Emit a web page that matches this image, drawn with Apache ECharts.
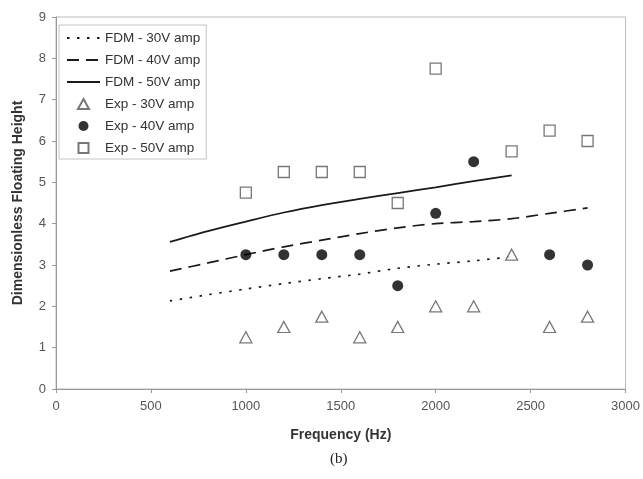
<!DOCTYPE html>
<html><head><meta charset="utf-8">
<script src="https://cdn.jsdelivr.net/npm/echarts@6/dist/echarts.min.js"></script>
<style>html,body{margin:0;padding:0;background:#fff}#c{width:643px;height:479px}</style>
</head><body><div id="c"></div>
<script>
// FDM model curves
const fdmFreq30 = [600, 800, 1000, 1200, 1400, 1600, 1800, 2000, 2200, 2400];
const fdm30 = [2.13, 2.28, 2.42, 2.55, 2.67, 2.78, 2.92, 3.02, 3.10, 3.20];
const fdmFreq40 = [600, 800, 1000, 1200, 1400, 1600, 1800, 2000, 2200, 2400, 2600, 2800];
const fdm40 = [2.85, 3.05, 3.25, 3.44, 3.60, 3.76, 3.90, 4.00, 4.05, 4.12, 4.25, 4.38];
const fdmFreq50 = [600, 800, 1000, 1200, 1400, 1600, 1800, 2000, 2200, 2400];
const fdm50 = [3.56, 3.82, 4.05, 4.27, 4.45, 4.60, 4.74, 4.88, 5.03, 5.17];
// Experimental points
const expFreq30 = [1000, 1200, 1400, 1600, 1800, 2000, 2200, 2400, 2600, 2800];
const exp30 = [1.25, 1.5, 1.75, 1.25, 1.5, 2.0, 2.0, 3.25, 1.5, 1.75];
const expFreq40 = [1000, 1200, 1400, 1600, 1800, 2000, 2200, 2600, 2800];
const exp40 = [3.25, 3.25, 3.25, 3.25, 2.5, 4.25, 5.5, 3.25, 3.0];
const expFreq50 = [1000, 1200, 1400, 1600, 1800, 2000, 2400, 2600, 2800];
const exp50 = [4.75, 5.25, 5.25, 5.25, 4.5, 7.75, 5.75, 6.25, 6.0];
const seriesNames = ['FDM - 30V amp', 'FDM - 40V amp', 'FDM - 50V amp', 'Exp - 30V amp', 'Exp - 40V amp', 'Exp - 50V amp'];

const zip = (xs, ys) => xs.map((x, i) => [x, ys[i]]);
const font = 'Liberation Sans, Arial, sans-serif';
const chart = echarts.init(document.getElementById('c'), null, {renderer: 'canvas'});
const lineS = (name, xs, ys, type) => ({
  name, type: 'line', data: zip(xs, ys), symbol: 'circle', showSymbol: false, smooth: 0.3,
  lineStyle: {color: '#1a1a1a', width: 1.7, type}, itemStyle: {color: '#1a1a1a'}, z: 2
});
const hollow = {color: '#fff', borderColor: '#555', borderWidth: 1.3};
chart.setOption({
  animation: false,
  backgroundColor: '#fff',
  grid: {left: 56, right: 17, top: 17, bottom: 90, show: true, borderColor: '#bbb', borderWidth: 1},
  xAxis: {
    type: 'value', min: 0, max: 3000, interval: 500,
    name: 'Frequency (Hz)', nameLocation: 'middle', nameGap: 39,
    nameTextStyle: {fontFamily: font, fontWeight: 'bold', fontSize: 14, color: '#333'},
    axisLine: {lineStyle: {color: '#999'}}, axisTick: {show: true, length: 4, lineStyle: {color: '#999'}},
    axisLabel: {fontFamily: font, fontSize: 13, color: '#555', margin: 11, formatter: v => String(v)},
    splitLine: {show: false}
  },
  yAxis: {
    type: 'value', min: 0, max: 9, interval: 1,
    name: 'Dimensionless Floating Height', nameLocation: 'middle', nameGap: 31,
    nameTextStyle: {fontFamily: font, fontWeight: 'bold', fontSize: 14, color: '#333'},
    axisLine: {show: true, lineStyle: {color: '#999'}}, axisTick: {show: true, length: 4, lineStyle: {color: '#999'}},
    axisLabel: {fontFamily: font, fontSize: 13, color: '#555', margin: 10},
    splitLine: {show: false}
  },
  legend: {
    orient: 'vertical', left: 59, top: 25, padding: [6, 6, 4, 7],
    borderColor: '#c4c4c4', borderWidth: 1, backgroundColor: '#fff',
    itemWidth: 33, itemHeight: 10, itemGap: 8, symbolKeepAspect: true,
    textStyle: {fontFamily: font, fontSize: 13.5, color: '#333'},
    data: [
      {name: seriesNames[0], itemStyle: {opacity: 0}},
      {name: seriesNames[1], itemStyle: {opacity: 0}},
      {name: seriesNames[2], itemStyle: {opacity: 0}},
      {name: seriesNames[3], icon: 'path://M5,0L10,9L0,9Z'},
      {name: seriesNames[4], icon: 'circle'},
      {name: seriesNames[5], icon: 'path://M0,0H10V10H0Z'}
    ]
  },
  graphic: [{
    type: 'text', left: 330, top: 452,
    style: {text: '(b)', font: '15px "Liberation Serif", "Times New Roman", serif', fill: '#222'}
  }],
  series: [
    lineS(seriesNames[0], fdmFreq30, fdm30, [2.5, 7.5]),
    lineS(seriesNames[1], fdmFreq40, fdm40, [12, 7]),
    lineS(seriesNames[2], fdmFreq50, fdm50, 'solid'),
    {name: seriesNames[3], type: 'scatter', data: zip(expFreq30, exp30), symbol: 'triangle', symbolSize: [12, 11],
     itemStyle: hollow, z: 3},
    {name: seriesNames[4], type: 'scatter', data: zip(expFreq40, exp40), symbol: 'circle', symbolSize: 11,
     itemStyle: {color: '#000', borderWidth: 0}, z: 3},
    {name: seriesNames[5], type: 'scatter', data: zip(expFreq50, exp50), symbol: 'rect', symbolSize: 11,
     itemStyle: hollow, z: 3}
  ]
});
</script></body></html>
